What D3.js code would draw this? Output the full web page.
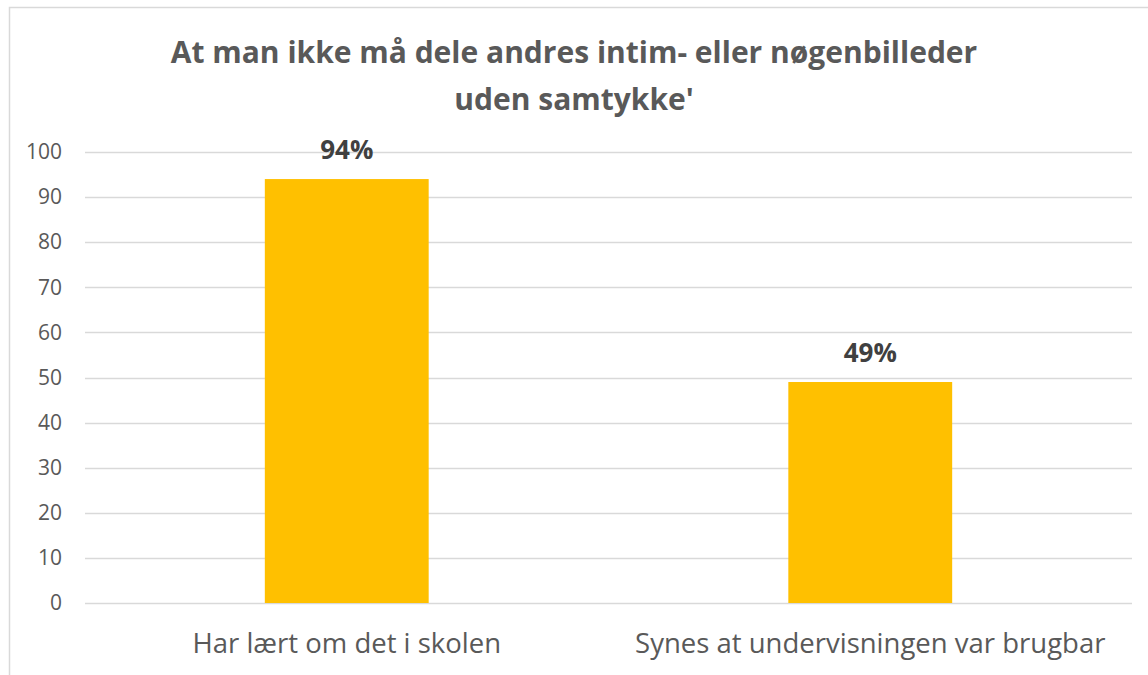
<!DOCTYPE html>
<html>
<head>
<meta charset="utf-8">
<script src="https://cdn.jsdelivr.net/npm/d3@7"></script>
<style>
  body { margin: 0; background: #fff; }
  svg text { font-family: "Open Sans", "Noto Sans", sans-serif; }
</style>
</head>
<body>
<div id="chart"></div>
<script>
// data
const categories = ["Har lært om det i skolen", "Synes at undervisningen var brugbar"];
const values = [94, 49];
const valueLabels = ["94%", "49%"];
const yTicks = [0, 10, 20, 30, 40, 50, 60, 70, 80, 90, 100];
const titleLines = ["At man ikke må dele andres intim- eller nøgenbilleder", "uden samtykke'"];

const W = 1148, H = 675;
const margin = { top: 152, right: 16, bottom: 72, left: 85 };
const width = W - margin.left - margin.right;
const height = H - margin.top - margin.bottom;

const svg = d3.select("#chart").append("svg")
    .attr("width", W)
    .attr("height", H);

// outer chart border (cropped on right / bottom)
svg.append("path")
    .attr("d", `M9.5,${H} V7.5 H${W}`)
    .attr("fill", "none")
    .attr("stroke", "#d9d9d9")
    .attr("stroke-width", 1.5);

// title
svg.append("g").selectAll("text")
    .data(titleLines)
    .enter().append("text")
    .attr("x", 574)
    .attr("y", (d, i) => 63 + i * 47)
    .attr("text-anchor", "middle")
    .style("font-size", "30px")
    .style("font-weight", "bold")
    .style("fill", "#595959")
    .text(d => d);

const g = svg.append("g")
    .attr("transform", `translate(${margin.left},${margin.top})`);

const x = d3.scaleBand()
    .domain(categories)
    .range([0, width])
    .paddingInner(0.687)
    .paddingOuter(0.3435);

const y = d3.scaleLinear()
    .domain([0, 100])
    .range([height, 0]);

// gridlines
g.append("g")
    .selectAll("line")
    .data(yTicks)
    .enter().append("line")
    .attr("x1", 0)
    .attr("x2", width)
    .attr("y1", d => Math.round(y(d)) + 0.5)
    .attr("y2", d => Math.round(y(d)) + 0.5)
    .attr("stroke", "#d9d9d9")
    .attr("stroke-width", 1.5);

// y axis labels
const yAxis = g.append("g")
    .call(d3.axisLeft(y).tickValues(yTicks).tickSize(0).tickPadding(23));
yAxis.select(".domain").remove();
yAxis.selectAll("text")
    .style("font-size", "21px")
    .style("fill", "#595959");

// bars
g.selectAll(".bar")
    .data(values)
    .enter().append("rect")
    .attr("class", "bar")
    .attr("x", (d, i) => x(categories[i]))
    .attr("y", d => y(d))
    .attr("width", x.bandwidth())
    .attr("height", d => height - y(d))
    .attr("fill", "#ffc000");

// value labels
g.selectAll(".val")
    .data(values)
    .enter().append("text")
    .attr("class", "val")
    .attr("x", (d, i) => x(categories[i]) + x.bandwidth() / 2)
    .attr("y", d => y(d) - 20)
    .attr("text-anchor", "middle")
    .style("font-size", "26px")
    .style("font-weight", "bold")
    .style("fill", "#404040")
    .text((d, i) => valueLabels[i]);

// x axis labels
const xAxis = g.append("g")
    .attr("transform", `translate(0,${height})`)
    .call(d3.axisBottom(x).tickSize(0));
xAxis.select(".domain").remove();
xAxis.selectAll("text")
    .attr("y", 50)
    .attr("dy", 0)
    .style("font-size", "27.5px")
    .style("fill", "#595959");
</script>
</body>
</html>
